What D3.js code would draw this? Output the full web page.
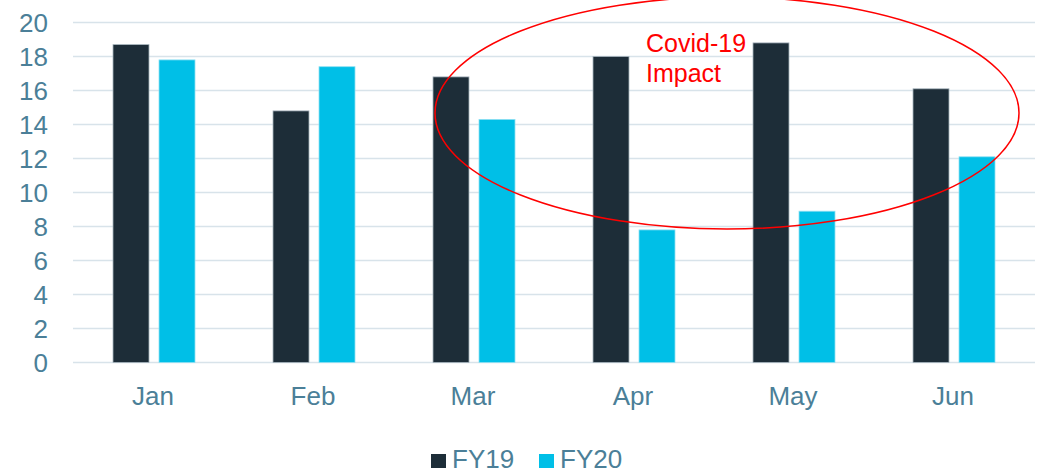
<!DOCTYPE html>
<html><head><meta charset="utf-8">
<script src="https://d3js.org/d3.v7.min.js"></script>
<style>body{margin:0;background:#fff;}svg{display:block;font-family:"Liberation Sans",Arial,sans-serif;}</style>
</head><body><svg id="c" width="1039" height="473"></svg>
<script>
const months = ["Jan","Feb","Mar","Apr","May","Jun"];
const series = ["FY19","FY20"];
const fy19 = [18.7,14.8,16.8,18.0,18.8,16.1];
const fy20 = [17.8,17.4,14.3,7.8,8.9,12.1];
const yTicks = [0,2,4,6,8,10,12,14,16,18,20];
const colors = ["#1d2d38","#00bfe7"];
const textColor = "#4b7f98";

const svg = d3.select("#c");
const x = d3.scaleBand().domain(months).range([73,1033]);
const y = d3.scaleLinear().domain([0,20]).range([362.5,22.5]);

// gridlines
svg.append("g").selectAll("line").data(yTicks).join("line")
  .attr("x1",73).attr("x2",1035).attr("y1",d=>y(d)).attr("y2",d=>y(d))
  .attr("stroke","#d8e3ea").attr("stroke-width",1.5);

// y labels
const yAxis = d3.axisLeft(y).tickValues(yTicks).tickSize(0).tickPadding(0);
const ya = svg.append("g").attr("transform","translate(48,0)").call(yAxis);
ya.select(".domain").remove();
ya.selectAll("text").attr("fill",textColor).style("font-size","26px").attr("dy","0.36em")
  .style("font-family","'Liberation Sans',Arial,sans-serif");

const xSub = d3.scaleBand().domain(series).range([40,122]).paddingInner(10/46);
const data = months.map((m,i)=>({m, vals:[fy19[i],fy20[i]]}));
const g = svg.append("g").selectAll("g").data(data).join("g")
  .attr("transform",d=>`translate(${x(d.m)},0)`);
g.selectAll("rect").data(d=>d.vals.map((v,j)=>({v,s:series[j],j}))).join("rect")
  .attr("x",d=>xSub(d.s)).attr("width",xSub.bandwidth())
  .attr("y",d=>y(d.v)).attr("height",d=>y(0)-y(d.v))
  .attr("fill",d=>colors[d.j])
  .attr("stroke",d=>d.j===0?"#a9b6bf":"#8fe0f3").attr("stroke-width",0.8);

// x labels
const xAxis = d3.axisBottom(x).tickSize(0).tickPadding(0);
const xa = svg.append("g").attr("transform","translate(0,405)").call(xAxis);
xa.select(".domain").remove();
xa.selectAll("text").attr("fill",textColor).style("font-size","26px").attr("dy","0")
  .style("font-family","'Liberation Sans',Arial,sans-serif");

// annotation ellipse
svg.append("ellipse").attr("cx",727).attr("cy",113).attr("rx",292).attr("ry",116)
  .attr("fill","none").attr("stroke","#ff0000").attr("stroke-width",1.5);
svg.append("text").attr("x",646).attr("y",52).attr("fill","#ff0000").style("font-size","25px").text("Covid-19");
svg.append("text").attr("x",646).attr("y",82).attr("fill","#ff0000").style("font-size","25px").text("Impact");

// legend
const leg = svg.append("g");
const lx = [431,539];
series.forEach((s,i)=>{
  leg.append("rect").attr("x",lx[i]).attr("y",454).attr("width",15).attr("height",14).attr("fill",colors[i]);
  leg.append("text").attr("x",lx[i]+21).attr("y",468).attr("fill",textColor).style("font-size","26px").text(s);
});
</script></body></html>
